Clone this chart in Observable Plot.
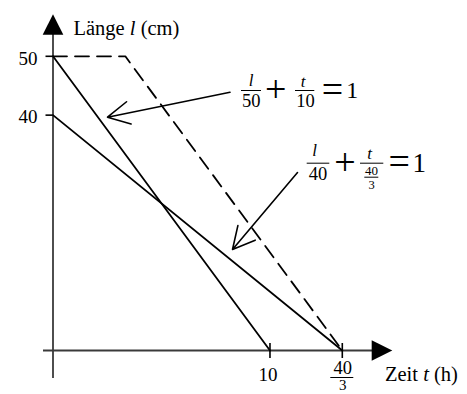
<!DOCTYPE html>
<html><head><meta charset="utf-8">
<script src="https://cdn.jsdelivr.net/npm/d3@7"></script>
<script src="https://cdn.jsdelivr.net/npm/@observablehq/plot@0.6"></script>
<style>body{margin:0;background:#fff} svg{display:block}</style>
</head><body><div id="chart"></div>
<script>
// ---- data ----
const lineA_t = [0, 10];          // l/50 + t/10 = 1
const lineA_l = [50, 0];
const lineB_t = [0, 40/3];        // l/40 + t/(40/3) = 1
const lineB_l = [40, 0];
const dashed_t = [0, 10/3, 40/3]; // dashed path
const dashed_l = [50, 50, 0];
const yTicks = [50, 40];
const yTickLabels = ["50", "40"];
const xTicks = [10, 40/3];
const xTickNum = ["10", "40"];
const xTickDen = [null, "3"];
const yLabel = "Länge *l* (cm)";
const xLabel = "Zeit *t* (h)";

// ---- layout ----
const W = 467, H = 394;
const XR = [52.5, 341.8], YR = [350, 55.8];
const X = d3.scaleLinear([0, 40/3], XR), Y = d3.scaleLinear([0, 50], YR);
const tx = p => X.invert(p), ly = p => Y.invert(p);
const FONT = "'Liberation Serif', 'Times New Roman', serif";
const AX = "#3a3a3a";

const pts = (ts, ls) => ts.map((t, i) => ({t, l: ls[i]}));
const xt = xTicks.map((v, i) => ({v, num: xTickNum[i], den: xTickDen[i]}));

// equation pieces (pixel layout)
const eqText = [
  {px: 250.5, py: 85.7, s: 17, t: "*l*"},
  {px: 250.7, py: 106.7, s: 18.5, t: "50"},
  {px: 275.3, py: 101.3, s: 38, t: "+"},
  {px: 302.5, py: 86.7, s: 17, t: "*t*"},
  {px: 305, py: 106.7, s: 18.5, t: "10"},
  {px: 332, py: 101.6, s: 38, t: "="},
  {px: 351.7, py: 97.3, s: 24, t: "1"},
  {px: 314, py: 155, s: 17, t: "*l*"},
  {px: 317.5, py: 179.3, s: 18.5, t: "40"},
  {px: 344.5, py: 174.6, s: 38, t: "+"},
  {px: 369, py: 158.3, s: 17, t: "*t*"},
  {px: 371, py: 174.3, s: 13, t: "40"},
  {px: 371, py: 188.3, s: 12.5, t: "3"},
  {px: 398.8, py: 173.3, s: 38, t: "="},
  {px: 418.7, py: 171.7, s: 27, t: "1"}
];
const eqBars = [
  {a: 241, b: 261, y: 90},
  {a: 295, b: 314.3, y: 90},
  {a: 306.7, b: 329.3, y: 162.7},
  {a: 360, b: 383.3, y: 162.7},
  {a: 364.3, b: 378.3, y: 176.7}
];
const annArrows = [
  {a: 229.5, b: 91.7, c: 107, d: 116.7},
  {a: 297, b: 172, c: 232, d: 249}
];

const triSym = {
  draw(ctx, size) {
    const r = Math.sqrt(size / Math.PI);
    ctx.moveTo(r, 0); ctx.lineTo(-r, -r); ctx.lineTo(-r, r); ctx.closePath();
  }
};

const svg = Plot.plot({
  width: W, height: H,
  x: {domain: [0, 40/3], range: XR, axis: null},
  y: {domain: [0, 50], range: YR, axis: null},
  style: {fontFamily: FONT, background: "white", color: "black"},
  marks: [
    // axes
    Plot.ruleY([0], {x1: tx(43), x2: tx(372), stroke: AX, strokeWidth: 1.8}),
    Plot.ruleX([0], {y1: ly(378), y2: ly(33), stroke: AX, strokeWidth: 1.8}),
    Plot.dot([0], {x: tx(381.5), y: 0, symbol: triSym, r: 10.3, fill: "black", stroke: "none"}),
    Plot.dot([0], {x: 0, y: ly(24), symbol: triSym, r: 10.3, fill: "black", stroke: "none", rotate: -90}),
    // ticks
    Plot.ruleY(yTicks, {y: d => d, x1: tx(45.5), x2: 0, stroke: "black", strokeWidth: 1.6}),
    Plot.ruleX(xTicks, {x: d => d, y1: ly(343), y2: ly(358), stroke: "black", strokeWidth: 1.6}),
    // tick labels
    Plot.text(yTicks, {x: 0, y: d => d, text: (d, i) => yTickLabels[i], textAnchor: "end", lineAnchor: "bottom", dx: -15.5, dy: 8.3, fontSize: 19}),
    Plot.text(xt.filter(d => d.den == null), {x: "v", y: 0, text: "num", lineAnchor: "bottom", dx: -2, dy: 30, fontSize: 19}),
    Plot.text(xt.filter(d => d.den != null), {x: "v", y: 0, text: "num", lineAnchor: "bottom", dx: 0.5, dy: 23.5, fontSize: 18.5}),
    Plot.text(xt.filter(d => d.den != null), {x: "v", y: 0, text: "den", lineAnchor: "bottom", dx: 0.5, dy: 39.8, fontSize: 15}),
    Plot.ruleY(xt.filter(d => d.den != null), {y: 0, x1: d => d.v - (342.5 - 331) / (XR[1] - XR[0]) * (40/3), x2: d => d.v + (354 - 342.5) / (XR[1] - XR[0]) * (40/3), dy: 27, stroke: "black", strokeWidth: 1}),
    // axis labels
    Plot.text([yLabel], {x: tx(73), y: ly(34.3), text: d => d, textAnchor: "start", lineAnchor: "bottom", fontSize: 20.5}),
    Plot.text([xLabel], {x: tx(384.5), y: ly(380), text: d => d, textAnchor: "start", lineAnchor: "bottom", fontSize: 20.5}),
    // data lines
    Plot.line(pts(dashed_t, dashed_l), {x: "t", y: "l", stroke: "black", strokeWidth: 1.8, strokeDasharray: "14,8"}),
    Plot.line(pts(lineA_t, lineA_l), {x: "t", y: "l", stroke: "black", strokeWidth: 1.8}),
    Plot.line(pts(lineB_t, lineB_l), {x: "t", y: "l", stroke: "black", strokeWidth: 1.8}),
    // annotations
    Plot.arrow(annArrows, {x1: d => tx(d.a), y1: d => ly(d.b), x2: d => tx(d.c), y2: d => ly(d.d), stroke: "black", strokeWidth: 1.6, headLength: 23, headAngle: 55}),
    Plot.ruleY(eqBars, {x1: d => tx(d.a), x2: d => tx(d.b), y: d => ly(d.y), stroke: "black", strokeWidth: 1}),
    Plot.text(eqText, {x: d => tx(d.px), y: d => ly(d.py), text: "t", fontSize: d => d.s, lineAnchor: "bottom", textAnchor: "middle"})
  ]
});

// italic markup: *x* -> italic tspan
svg.querySelectorAll("text").forEach(el => {
  const s = el.textContent;
  if (!s.includes("*")) return;
  el.textContent = "";
  s.split("*").forEach((part, i) => {
    if (!part) return;
    const ts = document.createElementNS("http://www.w3.org/2000/svg", "tspan");
    ts.textContent = part;
    if (i % 2 === 1) ts.setAttribute("font-style", "italic");
    el.appendChild(ts);
  });
});

document.getElementById("chart").appendChild(svg);
</script>
</body></html>
